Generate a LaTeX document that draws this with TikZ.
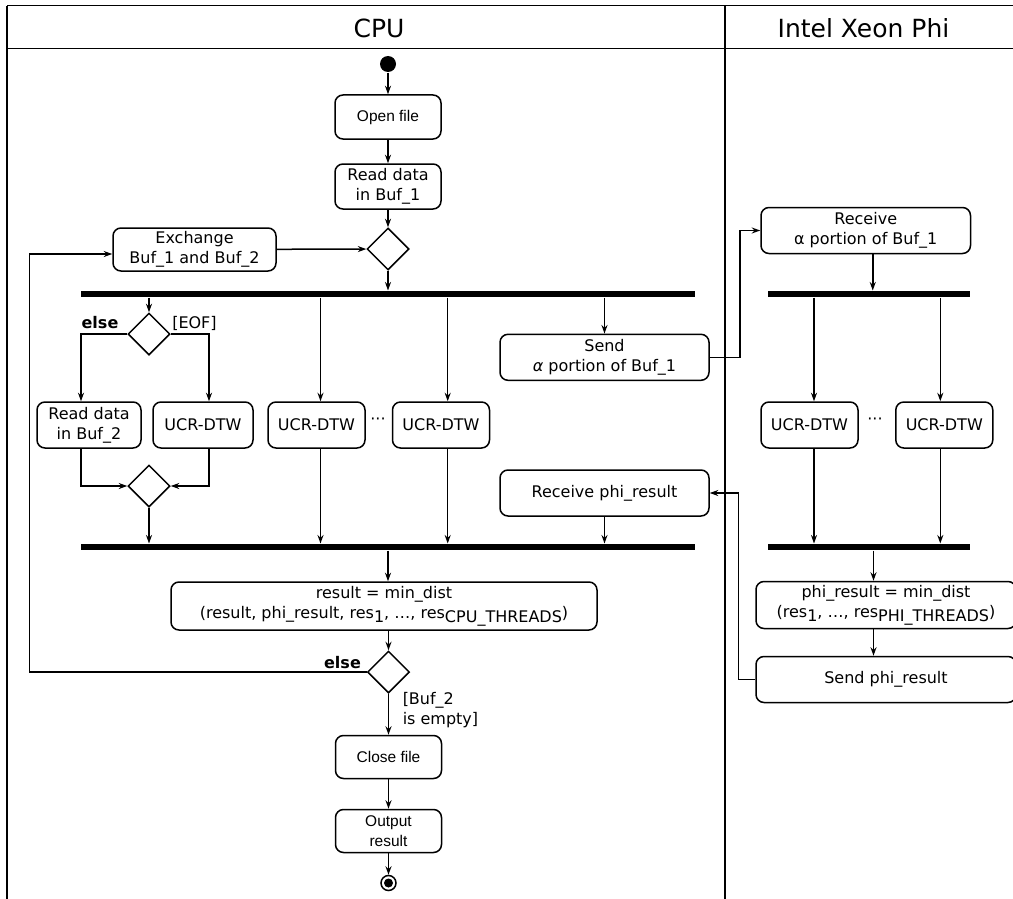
\documentclass[tikz,border=0pt]{standalone}
\usepackage{fontspec}
\setmainfont{DejaVu Sans}
\newfontfamily\arialfont{Liberation Sans}
\usetikzlibrary{arrows.meta}
\usetikzlibrary{shapes.geometric, positioning}
\newcommand{\lowsub}[1]{\raisebox{-4pt}{#1}}

\begin{document}
\begin{tikzpicture}[x=1pt,y=-1pt,->,>={Stealth[length=8.5pt,width=6pt]},line width=1.5pt,
    every node/.style={font=\fontsize{16}{20}\selectfont},
    act/.style={rectangle,draw,rounded corners=8pt,align=center,inner sep=0},
    boxsize/.style 2 args={minimum width=#1,minimum height=#2},
    arial/.style={font=\arialfont\fontsize{15.5}{20}\selectfont},
    dec/.style={diamond,draw,minimum width=42,minimum height=42,inner sep=0},
    sync bar/.style={rectangle,fill,inner sep=0,minimum height=5.5,minimum width=#1},
    start node/.style={circle,fill,minimum size=16,inner sep=0},
    end node/.style={circle,draw,minimum size=15,inner sep=0,
        path picture={\fill (path picture bounding box.center) circle (4.5pt);}},
    head/.style={font=\fontsize{25}{30}\selectfont},
    guard/.style={anchor=base},
    bold/.style={font=\bfseries\fontsize{16}{20}\selectfont}]

        \clip (0,0) rectangle (1013,899);

        \draw[-] (7,5.7) -- (1013,5.7);
        \draw[-] (7,48.3) -- (1013,48.3);
        \draw[-] (7,5.7) -- (7,899);
        \draw[-] (725,5.7) -- (725,899);
        \node[head] (cpu) at (379,28.3) {CPU};
        \node[head] (phi) at (863.5,28.3) {Intel Xeon Phi};

        \node[start node] (start) at (388,64) {};
        \node[act, boxsize={106}{44}, arial] (open) at (388,117) {Open file};
        \node[act, boxsize={106}{45}] (read1) at (388,186.5) {Read data\\in Buf\_1};
        \node[dec] (dec1) at (388,249) {};
        \node[act, boxsize={163}{43}] (exch) at (194.5,249.5) {Exchange\\Buf\_1 and Buf\_2};
        \node[sync bar=614] (fork1) at (388,294) {};
        \node[dec] (eof) at (149,334) {};
        \node[bold, guard] (elseA) at (100,328) {else};
        \node[guard] (eoflbl) at (194.5,328) {[EOF]};
        \node[act, boxsize={104}{46}] (read2) at (89,425) {Read data\\in Buf\_2};
        \node[act, boxsize={100}{46}] (ucr1) at (203,425) {UCR-DTW};
        \node[act, boxsize={97}{46}] (ucr2) at (316.5,425) {UCR-DTW};
        \node (dots1) at (378,421) {···};
        \node[act, boxsize={97}{46}] (ucr3) at (441,425) {UCR-DTW};
        \node[dec] (merge) at (149,486) {};
        \node[sync bar=614] (join1) at (388,547) {};
        \node[act, boxsize={209}{46}] (send) at (604.5,357.3) {Send\\\textit{α} portion of Buf\_1};
        \node[act, boxsize={209}{46}] (recvphi) at (604.5,493) {Receive phi\_result};
        \node[act, boxsize={426}{48}] (result) at (384,606)
            {result = min\_dist\\(result, phi\_result, res\lowsub{1}, …, res\lowsub{CPU\_THREADS})};
        \node[dec] (dec2) at (388.5,672) {};
        \node[bold, guard] (elseB) at (342.5,668) {else};
        \node[anchor=north west, inner sep=0, align=left] (emptylbl) at (402,692) {[Buf\_2\\is empty]};
        \node[act, boxsize={106}{43}, arial] (close) at (388.5,757) {Close file};
        \node[act, boxsize={106}{43}, arial] (output) at (388.5,831) {Output\\result};
        \node[end node] (end) at (388.5,883) {};
        \coordinate (back) at (29.3,672);

        \node[act, boxsize={209.5}{46}] (recv) at (865.75,230.5) {Receive\\α portion of Buf\_1};
        \node[sync bar=202] (fork2) at (869,294) {};
        \node[act, boxsize={97}{46}] (ucr4) at (809.5,425) {UCR-DTW};
        \node (dots2) at (875,421) {···};
        \node[act, boxsize={97}{46}] (ucr5) at (944.3,425) {UCR-DTW};
        \node[sync bar=202] (join2) at (869,547) {};
        \node[act, boxsize={260}{47}] (phimin) at (886,605)
            {phi\_result = min\_dist\\(res\lowsub{1}, …, res\lowsub{PHI\_THREADS})};
        \node[act, boxsize={260}{46}] (sendphi) at (886,679.5) {Send phi\_result};

        \path (start) edge (open)
              (open)  edge (read1)
              (read1) edge (dec1)
              (exch)  edge (dec1)
              (dec1)  edge (dec1 |- fork1.north)
              (dec2)  edge (close)
              (close) edge (output)
              (output) edge (end);

        \draw (fork1.south -| eof) -- (eof);
        \draw (eof) -| ([xshift=-8pt]read2.north);
        \draw (eof) -| ([xshift=6pt]ucr1.north);
        \draw ([xshift=4pt]ucr2.north |- fork1.south) -- ([xshift=4pt]ucr2.north);
        \draw ([xshift=6.7pt]ucr3.north |- fork1.south) -- ([xshift=6.7pt]ucr3.north);
        \draw (send.north |- fork1.south) -- (send);
        \draw ([xshift=-8pt]read2.south) |- (merge);
        \draw ([xshift=6pt]ucr1.south) |- (merge);
        \draw (merge) -- (merge |- join1.north);
        \draw ([xshift=4pt]ucr2.south) -- ([xshift=4pt]ucr2.south |- join1.north);
        \draw ([xshift=6.7pt]ucr3.south) -- ([xshift=6.7pt]ucr3.south |- join1.north);
        \draw (recvphi) -- (recvphi |- join1.north);
        \draw (join1.south) -- (join1.south |- result.north);
        \draw (result.south -| dec2) -- (dec2);
        \draw (dec2) -- (back) |- ([yshift=-4.5pt]exch.west);

        \draw (send.east) -- ++(30,0) |- (recv);
        \draw ([xshift=7pt]recv.south) -- ([xshift=7pt]recv.south |- fork2.north);
        \draw ([xshift=4.5pt]ucr4.north |- fork2.south) -- ([xshift=4.5pt]ucr4.north);
        \draw ([xshift=-4pt]ucr5.north |- fork2.south) -- ([xshift=-4pt]ucr5.north);
        \draw ([xshift=4.5pt]ucr4.south) -- ([xshift=4.5pt]ucr4.south |- join2.north);
        \draw ([xshift=-4pt]ucr5.south) -- ([xshift=-4pt]ucr5.south |- join2.north);
        \draw ([xshift=-12.5pt]phimin.north |- join2.south) -- ([xshift=-12.5pt]phimin.north);
        \draw ([xshift=-12.5pt]phimin.south) -- ([xshift=-12.5pt]sendphi.north);
        \draw (sendphi.west) -- ++(-17,0) |- (recvphi);
\end{tikzpicture}
\end{document}
